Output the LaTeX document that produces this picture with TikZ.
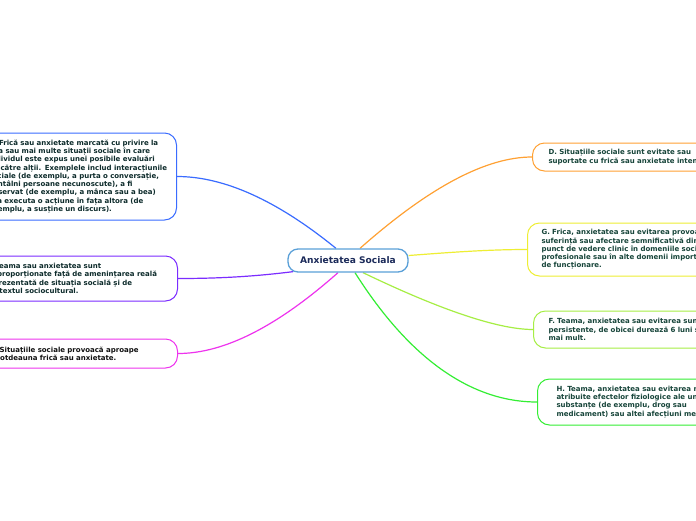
\documentclass[tikz,border=0pt]{standalone}
\usepackage{fontspec}
\setmainfont{DejaVu Sans}
\usetikzlibrary{backgrounds}
\definecolor{cA}{HTML}{3A6CFF}
\definecolor{cB}{HTML}{7B2CFF}
\definecolor{cCm}{HTML}{EE33EE}
\definecolor{cD}{HTML}{FFA133}
\definecolor{cG}{HTML}{EEEE33}
\definecolor{cF}{HTML}{A6EE44}
\definecolor{cH}{HTML}{33EE33}
\definecolor{cCtr}{HTML}{5AA0D8}
\definecolor{cCtrT}{HTML}{1C2B5A}
\definecolor{tR}{HTML}{17453A}
\definecolor{tL}{HTML}{0D2B2B}
\definecolor{tK}{HTML}{111111}
\begin{document}
\begin{tikzpicture}[x=1pt,y=-1pt,
  leaf/.style={rounded corners=12pt, line width=1pt, fill=white, inner ysep=2pt,
    align=left, font=\fontsize{7}{8.3}\selectfont\bfseries},
  conn/.style={line width=1.2pt}]
\useasboundingbox (0,0) rectangle (696,520);
\clip (0,0) rectangle (696,520);

\node[draw=cCtr, line width=1.3pt, rounded corners=10pt, fill=white,
  minimum width=120pt, minimum height=23pt, text=cCtrT,
  font=\fontsize{9.1}{10}\selectfont\bfseries] (ctr) at (348,260.5) {Anxietatea Sociala};

\node[leaf, draw=cA, text=tL, anchor=east, inner xsep=7pt, text width=181pt, minimum height=87pt] (A) at (177,176.5)
{A. Frică sau anxietate marcată cu privire la\\
una sau mai multe situații sociale în care\\
individul este expus unei posibile evaluări\\
de către alții. Exemplele includ interacțiunile\\
sociale (de exemplu, a purta o conversație,\\
a întâlni persoane necunoscute), a fi\\
observat (de exemplu, a mânca sau a bea)\\
și a executa o acțiune în fața altora (de\\
exemplu, a susține un discurs).};

\node[leaf, draw=cB, text=tL, anchor=east, inner xsep=8pt, text width=184pt, minimum height=45pt] (E) at (178,278.5)
{E. Teama sau anxietatea sunt\\
disproporționate față de amenințarea reală\\
reprezentată de situația socială și de\\
contextul sociocultural.};

\node[leaf, draw=cCm, text=tK, anchor=east, inner xsep=8pt, text width=180pt, minimum height=29pt] (C) at (178,353.5)
{C. Situațiile sociale provoacă aproape\\
întotdeauna frică sau anxietate.};

\node[leaf, draw=cD, text=tR, anchor=west, inner xsep=16pt, text width=200pt, minimum height=28pt] (D) at (532,157)
{D. Situațiile sociale sunt evitate sau\\
suportate cu frică sau anxietate intensă.};

\node[leaf, draw=cG, text=tR, anchor=west, inner xsep=14pt, text width=200pt, minimum height=53pt] (G) at (527,249.5)
{G. Frica, anxietatea sau evitarea provoacă\\
suferință sau afectare semnificativă din\\
punct de vedere clinic în domeniile sociale,\\
profesionale sau în alte domenii importante\\
de funcționare.};

\node[leaf, draw=cF, text=tR, anchor=west, inner xsep=15pt, text width=200pt, minimum height=37pt] (F) at (533,329.5)
{F. Teama, anxietatea sau evitarea sunt\\
persistente, de obicei durează 6 luni sau\\
mai mult.};

\node[leaf, draw=cH, text=tR, anchor=west, inner xsep=19pt, text width=200pt, minimum height=46pt] (H) at (537,402)
{H. Teama, anxietatea sau evitarea nu sunt\\
atribuite efectelor fiziologice ale unei\\
substanțe (de exemplu, drog sau\\
medicament) sau altei afecțiuni medicale.};

\begin{pgfonlayer}{background}
\fill[white] (0,0) rectangle (696,520);
\draw[conn, cA] ([xshift=-12pt]ctr.north) .. controls +(-59,-48) and +(47,0) .. (A.east);
\draw[conn, cB] ([xshift=-55pt,yshift=1pt]ctr.south) .. controls +(-40,5) and +(40,0) .. (E.east);
\draw[conn, cCm] ([xshift=-10pt]ctr.south) .. controls +(-61,54) and +(46,0) .. (C.east);
\draw[conn, cD] ([xshift=12pt]ctr.north) .. controls +(69,-61) and +(-46,0) .. (D.west);
\draw[conn, cG] ([yshift=5pt]ctr.east) .. controls +(40,-3) and +(-40,0) .. (G.west);
\draw[conn, cF] ([xshift=15pt]ctr.south) .. controls +(81,39) and +(-33,0) .. (F.west);
\draw[conn, cH] ([xshift=7pt]ctr.south) .. controls +(55,87) and +(-65,0) .. (H.west);
\end{pgfonlayer}
\end{tikzpicture}
\end{document}
